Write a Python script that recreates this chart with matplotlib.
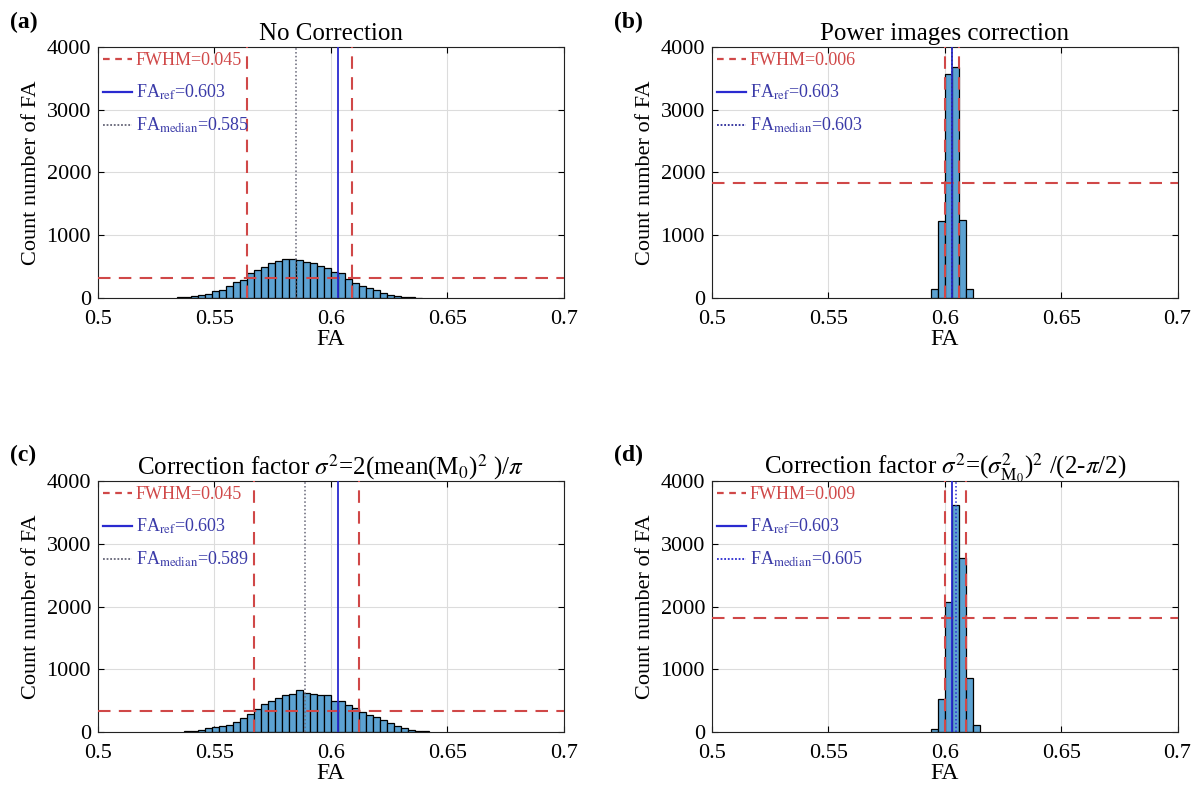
import numpy as np
import matplotlib
matplotlib.use('Agg')
import matplotlib.pyplot as plt
from matplotlib.lines import Line2D

plt.rcParams['font.family'] = ['Liberation Serif', 'DejaVu Serif']
plt.rcParams['mathtext.fontset'] = 'stix'

# 直方图数据 (bin 宽度 0.003)
bin_w = 0.003

start_a = 0.534
counts_a = [11, 21, 32, 42, 58, 112, 128, 191, 260, 287, 393, 446, 499, 553, 595, 620,
            626, 606, 579, 553, 510, 473, 409, 393, 298, 234, 191, 154, 128, 74, 48, 32, 21, 11, 5]

start_b = 0.594
counts_b = [140, 1220, 3570, 3680, 1250, 150]

start_c = 0.537
counts_c = [10, 22, 38, 58, 85, 96, 112, 165, 218, 282, 361, 446, 499, 537, 590, 606,
            669, 627, 606, 595, 595, 499, 494, 430, 377, 324, 271, 234, 191, 149, 96, 58, 35, 20, 10]

start_d = 0.594
counts_d = [55, 530, 2070, 3625, 2775, 866, 115]

titles = ['No Correction', 'Power images correction',
          r'Correction factor $\sigma^2$=2(mean(M$_0$)$^2$ )/$\pi$',
          r'Correction factor $\sigma^2$=($\sigma^2_{\mathrm{M}_0}$)$^2$ /(2-$\pi$/2)']
panel_tags = ['(a)', '(b)', '(c)', '(d)']

fwhm = [0.045, 0.006, 0.045, 0.009]
fwhm_left = [0.5638, 0.6003, 0.567, 0.6003]
fwhm_right = [0.6092, 0.6061, 0.6122, 0.609]
half_max = [313, 1840, 335, 1815]
fa_ref = 0.603
fa_median = [0.585, 0.603, 0.589, 0.605]

starts = [start_a, start_b, start_c, start_d]
counts = [counts_a, counts_b, counts_c, counts_d]

bar_col = (92/255, 162/255, 210/255)
red = '#d04848'
blue = '#2a2ad0'
dot_col = ['#666677', '#2a2a99', '#666677', '#2a2ad0']

fig = plt.figure(figsize=(12, 7.87), dpi=100)
positions = [[0.0817, 0.6214, 0.388, 0.3189], [0.5933, 0.6214, 0.388, 0.3189],
             [0.0817, 0.0699, 0.388, 0.3189], [0.5933, 0.0699, 0.388, 0.3189]]

for i in range(4):
    ax = fig.add_axes(positions[i])
    c = np.array(counts[i])
    left = starts[i] + bin_w * np.arange(len(c))
    ax.bar(left, c, width=bin_w, align='edge', color=bar_col, edgecolor='black', linewidth=0.9, zorder=2)

    ax.axvline(fwhm_left[i], color=red, ls=(0, (6, 4)), lw=1.5, zorder=3)
    ax.axvline(fwhm_right[i], color=red, ls=(0, (6, 4)), lw=1.5, zorder=3)
    ax.axhline(half_max[i], color=red, ls=(0, (6, 4)), lw=1.5, zorder=3)
    ax.axvline(fa_ref, color=blue, lw=1.3, zorder=4)
    ax.axvline(fa_median[i], color=dot_col[i], ls=(0, (1, 1.5)), lw=1.1, zorder=4)

    ax.set_xlim(0.5, 0.7)
    ax.set_ylim(0, 4000)
    ax.set_xticks([0.5, 0.55, 0.6, 0.65, 0.7])
    ax.set_xticklabels(['0.5', '0.55', '0.6', '0.65', '0.7'])
    ax.set_yticks([0, 1000, 2000, 3000, 4000])
    ax.tick_params(direction='in', labelsize=16, top=True, right=True, length=4)
    ax.tick_params(axis='x', pad=9)
    ax.tick_params(axis='y', pad=5)
    ax.grid(True, color='#dcdcdc', lw=0.8, zorder=0)
    ax.set_axisbelow(True)
    for s in ax.spines.values():
        s.set_linewidth(0.8)
        s.set_color('#222222')

    ax.set_xlabel('FA', fontsize=17, labelpad=0)
    ax.set_ylabel('Count number of FA', fontsize=16, labelpad=4)
    ax.set_title(titles[i], fontsize=18, pad=5)

    handles = [Line2D([], [], color=red, ls=(0, (3, 2.5)), lw=1.6),
               Line2D([], [], color=blue, lw=1.6),
               Line2D([], [], color=dot_col[i], ls=(0, (1, 1)), lw=1.3)]
    labels = ['FWHM=%.3f' % fwhm[i], r'FA$_{\mathrm{ref}}$=0.603',
              r'FA$_{\mathrm{median}}$=%.3f' % fa_median[i]]
    leg = ax.legend(handles, labels, loc='upper left', frameon=False, fontsize=13,
                    handlelength=1.6, handletextpad=0.2, borderaxespad=0.1,
                    labelspacing=0.75, borderpad=0.2)
    for t, col in zip(leg.get_texts(), [red, '#3a3aa8', '#3a3aa8']):
        t.set_color(col)

    fx = 0.008 if i % 2 == 0 else 0.512
    fy = 0.985 if i < 2 else 0.435
    fig.text(fx, fy, panel_tags[i], fontsize=17, fontweight='bold', va='top', ha='left')

fig.savefig('out.png', dpi=100)
